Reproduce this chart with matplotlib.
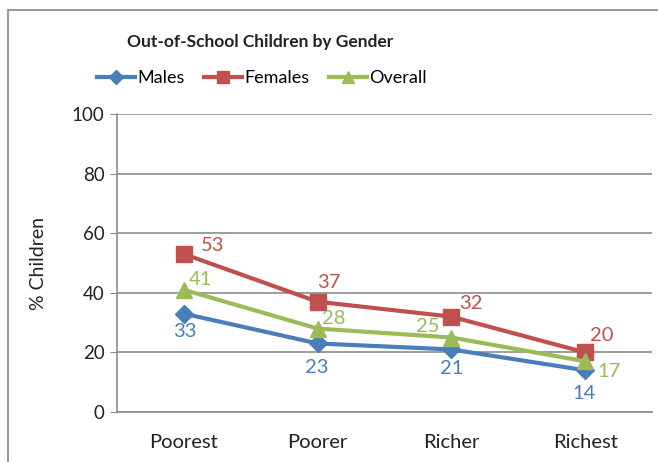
import matplotlib.pyplot as plt
from matplotlib.patches import Rectangle

categories = ['Poorest', 'Poorer', 'Richer', 'Richest']
males = [33, 23, 21, 14]
females = [53, 37, 32, 20]
overall = [41, 28, 25, 17]

plt.rcParams['font.family'] = ['Lato', 'DejaVu Sans']

fig = plt.figure(figsize=(6.58, 4.62), dpi=100)
fig.patches.append(Rectangle((8 / 658, -0.1), 1.2, 1 - 10 / 462 + 0.1,
                             transform=fig.transFigure, fill=False,
                             edgecolor='#8c8c8c', linewidth=1.3))
ax = fig.add_axes([117 / 658, 1 - 412 / 462, (652 - 117) / 658, (412 - 114) / 462])

x = range(len(categories))
blue, red, green = '#4a7ebb', '#c0504d', '#9bbb59'
ax.plot(x, males, color=blue, lw=3, marker='D', ms=9, label='Males', zorder=3)
ax.plot(x, females, color=red, lw=3, marker='s', ms=11, label='Females', zorder=3)
ax.plot(x, overall, color=green, lw=3, marker='^', ms=11, label='Overall', zorder=4)

px = 0.72
m_off = [(1, -18), (-1, -24), (0, -19), (-1, -23)]
f_off = [(29, 9), (11, 19), (20, 13), (17, 17)]
o_off = [(17, 10), (16, 10), (-24, 11), (24, -10)]
for i in x:
    ax.annotate(str(males[i]), (i, males[i]), xytext=(m_off[i][0] * px, m_off[i][1] * px),
                textcoords='offset points', ha='center', va='center', color=blue, fontsize=14.5)
    ax.annotate(str(females[i]), (i, females[i]), xytext=(f_off[i][0] * px, f_off[i][1] * px),
                textcoords='offset points', ha='center', va='center', color=red, fontsize=14.5)
    ax.annotate(str(overall[i]), (i, overall[i]), xytext=(o_off[i][0] * px, o_off[i][1] * px),
                textcoords='offset points', ha='center', va='center', color=green, fontsize=14.5)

ax.set_xlim(-0.5, 3.5)
ax.set_ylim(0, 100)
ax.set_yticks(range(0, 101, 20))
ax.set_xticks(list(x))
ax.set_xticklabels(categories)
ax.grid(axis='y', color='#8c8c8c', lw=1.2)
ax.set_axisbelow(True)
for s in ['top', 'right']:
    ax.spines[s].set_visible(False)
for s in ['left', 'bottom']:
    ax.spines[s].set_color('#8c8c8c')
    ax.spines[s].set_linewidth(1.2)
ax.tick_params(axis='y', length=5, color='#8c8c8c', labelsize=13.5, labelcolor='#222222', pad=4)
ax.tick_params(axis='x', length=0, labelsize=14.5, labelcolor='#222222', pad=16)
ax.set_ylabel('% Children', fontsize=14, color='#222222', labelpad=18)

fig.text(260 / 658, 1 - 42 / 462, 'Out-of-School Children by Gender', ha='center', va='center',
         fontsize=12.5, fontweight='bold', color='#222222')
fig.legend(loc='center', bbox_to_anchor=(262 / 658, 1 - 78 / 462), ncol=3, frameon=False,
           fontsize=13, handlelength=2.1, handletextpad=0.1, columnspacing=1.1, markerscale=0.8)

fig.savefig('out.png', dpi=100)
